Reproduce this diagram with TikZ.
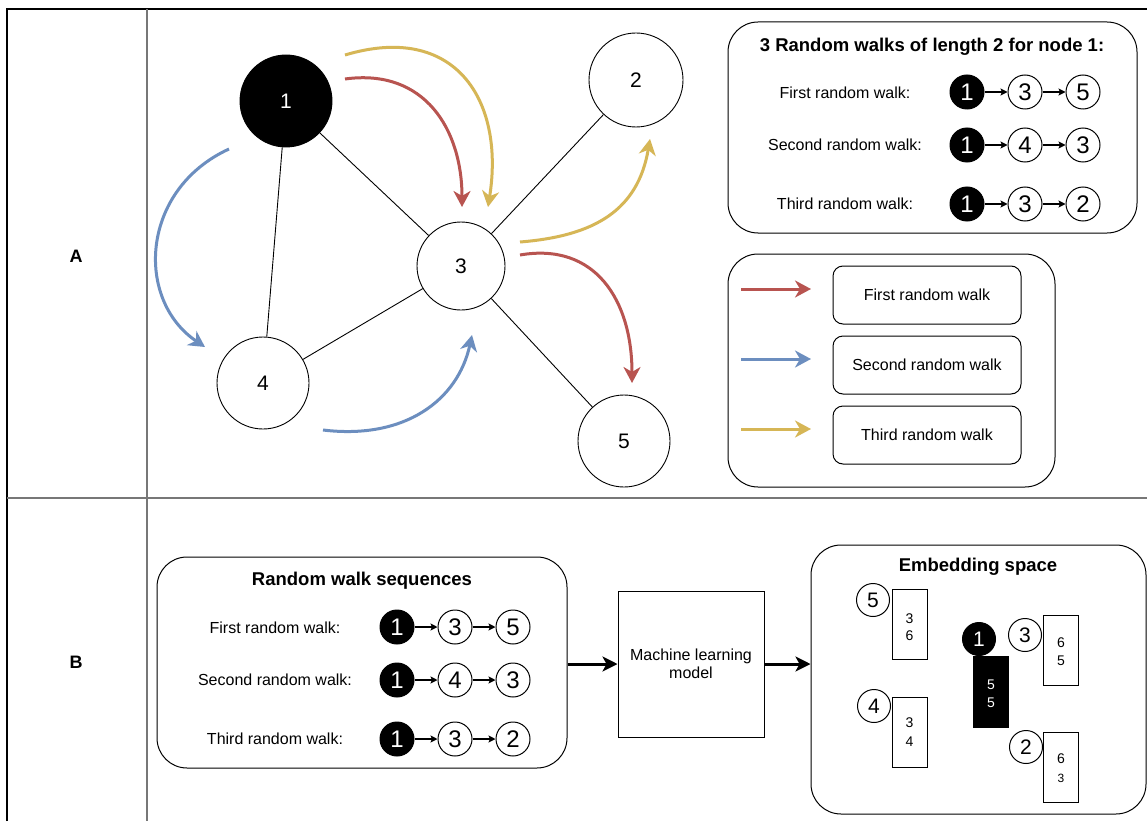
\documentclass[tikz,border=0pt]{standalone}
\usepackage{fontspec}
\setmainfont{Liberation Sans}
\usetikzlibrary{arrows.meta}
\definecolor{walkred}{HTML}{B85450}
\definecolor{walkblue}{HTML}{6C8EBF}
\definecolor{walkyellow}{HTML}{D6B656}
\definecolor{gridgray}{HTML}{777777}

\begin{document}
\begin{tikzpicture}[x=1pt,y=-1pt,
  gnode/.style={circle,draw,line width=0.9pt,minimum size=92pt,inner sep=0pt,font=\fontsize{21}{21}\selectfont},
  gedge/.style={line width=0.9pt},
  panel/.style={draw,line width=1pt,rounded corners=30pt,inner sep=0pt},
  tagbox/.style={draw,line width=1pt,rounded corners=10pt,minimum width=188pt,minimum height=58pt,inner sep=0pt,font=\fontsize{16}{19}\selectfont},
  walkarrow/.style={line width=3pt,-{Stealth[length=16pt,width=17pt,inset=5pt]}},
  wnode/.style={circle,draw,line width=1pt,minimum size=34pt,inner sep=0pt,font=\fontsize{24}{24}\selectfont},
  wstart/.style={wnode,fill=black,text=white},
  seqarrow/.style={line width=1.5pt,-{Stealth[length=7pt,width=7pt,inset=1.5pt]}},
  rowlabel/.style={font=\fontsize{16}{19}\selectfont},
  paneltitle/.style={font=\bfseries\fontsize{18.5}{22}\selectfont},
  rowtag/.style={font=\bfseries\fontsize{18}{22}\selectfont},
  enode/.style={circle,draw,fill=white,line width=1pt,minimum size=33pt,inner sep=0pt,font=\fontsize{21}{21}\selectfont},
  ebar/.style={draw,line width=1pt,minimum width=35pt,minimum height=70pt,inner sep=0pt},
  bardigit/.style={inner sep=0pt,font=\fontsize{14}{14}\selectfont},
  mlarrow/.style={line width=3pt,-{Stealth[length=15pt,width=15pt,inset=4pt]}}
]
\useasboundingbox (0,0) rectangle (1147,821);
\fill[white] (0,0) rectangle (1147,821);

% table rules
\draw[line width=1.5pt] (7,821) -- (7,9) -- (1147,9);
\draw[gridgray,line width=2pt] (147,9) -- (147,821);
\draw[gridgray,line width=2pt] (7,498) -- (1147,498);
\node[rowtag] (tagA) at (76,256) {A};
\node[rowtag] (tagB) at (76,662) {B};

% ---------- row A: graph ----------
\node[gnode,fill=black,text=white] (n1) at (286,101) {1};
\node[gnode,minimum size=94pt] (n2) at (636,80) {2};
\node[gnode,minimum size=88pt] (n3) at (461,266) {3};
\node[gnode] (n4) at (263,383) {4};
\node[gnode] (n5) at (624,441) {5};
\draw[gedge] (n1) -- (n3);
\draw[gedge] (n1) -- (n4);
\draw[gedge] (n3) -- (n2);
\draw[gedge] (n3) -- (n4);
\draw[gedge] (n3) -- (n5);

% walk arrows
\coordinate (r1s) at (345,79);   \coordinate (r1e) at (462,207);
\coordinate (y1s) at (345,55);   \coordinate (y1e) at (488,207);
\coordinate (b1s) at (229,149);  \coordinate (b1e) at (205,347);
\coordinate (b2s) at (323,430);  \coordinate (b2e) at (472,335);
\coordinate (y2s) at (520,242);  \coordinate (y2e) at (650,139);
\coordinate (r2s) at (520,255);  \coordinate (r2e) at (632,383);
\draw[walkarrow,walkred] (r1s) .. controls (425,68) and (462,130) .. (r1e);
\draw[walkarrow,walkyellow] (y1s) .. controls (455,22) and (505,100) .. (y1e);
\draw[walkarrow,walkblue] (b1s) .. controls (140,190) and (135,300) .. (b1e);
\draw[walkarrow,walkblue] (b2s) .. controls (405,440) and (458,400) .. (b2e);
\draw[walkarrow,walkyellow] (y2s) .. controls (595,236) and (638,210) .. (y2e);
\draw[walkarrow,walkred] (r2s) .. controls (595,242) and (632,300) .. (r2e);

% walks panel
\node[panel,minimum width=409pt,minimum height=211pt] (walks) at (932.5,127.5) {};
\node[paneltitle] (walkstitle) at (932,47) {3 Random walks of length 2 for node 1:};
\node[rowlabel] (wl1) at (845,93) {First random walk:};
\node[rowlabel] (wl2) at (845,145) {Second random walk:};
\node[rowlabel] (wl3) at (845,204) {Third random walk:};
\node[wstart] (a1) at (967,92) {1};
\node[wnode]  (a2) at (1025,92) {3};
\node[wnode]  (a3) at (1083,92) {5};
\node[wstart] (b1) at (967,145) {1};
\node[wnode]  (b2) at (1025,145) {4};
\node[wnode]  (b3) at (1083,145) {3};
\node[wstart] (c1) at (967,204) {1};
\node[wnode]  (c2) at (1025,204) {3};
\node[wnode]  (c3) at (1083,204) {2};
\foreach \p/\q in {a1/a2,a2/a3,b1/b2,b2/b3,c1/c2,c2/c3} \draw[seqarrow] (\p) -- (\q);

% legend panel
\node[panel,minimum width=327pt,minimum height=233pt] (legend) at (891.5,370.5) {};
\node[tagbox] (lg1) at (927,295) {First random walk};
\node[tagbox] (lg2) at (927,365) {Second random walk};
\node[tagbox] (lg3) at (927,435) {Third random walk};
\coordinate (la1) at (741,289); \coordinate (lb1) at (811,289);
\coordinate (la2) at (741,359); \coordinate (lb2) at (811,359);
\coordinate (la3) at (741,429); \coordinate (lb3) at (811,429);
\draw[walkarrow,walkred] (la1) -- (lb1);
\draw[walkarrow,walkblue] (la2) -- (lb2);
\draw[walkarrow,walkyellow] (la3) -- (lb3);

% ---------- row B ----------
\node[panel,minimum width=410pt,minimum height=211pt] (seq) at (362,662.5) {};
\node[paneltitle] (seqtitle) at (362,581) {Random walk sequences};
\node[rowlabel] (sl1) at (275,628) {First random walk:};
\node[rowlabel] (sl2) at (275,680) {Second random walk:};
\node[rowlabel] (sl3) at (275,739) {Third random walk:};
\node[wstart] (d1) at (397,627) {1};
\node[wnode]  (d2) at (455,627) {3};
\node[wnode]  (d3) at (513,627) {5};
\node[wstart] (e1) at (397,680) {1};
\node[wnode]  (e2) at (455,680) {4};
\node[wnode]  (e3) at (513,680) {3};
\node[wstart] (f1) at (397,739) {1};
\node[wnode]  (f2) at (455,739) {3};
\node[wnode]  (f3) at (513,739) {2};
\foreach \p/\q in {d1/d2,d2/d3,e1/e2,e2/e3,f1/f2,f2/f3} \draw[seqarrow] (\p) -- (\q);

\node[draw,line width=1pt,minimum width=146pt,minimum height=146pt,inner sep=0pt,align=center,
      font=\fontsize{16}{18}\selectfont] (ml) at (691,664) {Machine learning\\model};

\node[panel,minimum width=335pt,minimum height=269pt] (emb) at (978.5,679.5) {};
\node[paneltitle] (embtitle) at (978,567) {Embedding space};

\draw[mlarrow] (seq.east |- ml.west) -- (ml.west);
\draw[mlarrow] (ml.east) -- (ml.east -| emb.west);

% embedded vectors: a bar with two coordinates and a labelled node
\node[ebar] (v5) at (909.5,624) {};
\node[bardigit] (v5a) at (909.5,619) {3};
\node[bardigit] (v5b) at (909.5,636) {6};
\node[enode] (e5) at (873,600) {5};

\node[ebar] (v4) at (909.5,732.5) {};
\node[bardigit] (v4a) at (909.5,723) {3};
\node[bardigit] (v4b) at (909.5,742) {4};
\node[enode] (e4) at (874,706) {4};

\node[ebar,fill=black,minimum height=71pt] (v1) at (991,691.5) {};
\node[bardigit,text=white] (v1a) at (991,685) {5};
\node[bardigit,text=white] (v1b) at (991,703) {5};
\node[enode,fill=black,text=white] (e1) at (979,639) {1};

\node[ebar] (v3) at (1061,650.5) {};
\node[bardigit] (v3a) at (1061,643) {6};
\node[bardigit] (v3b) at (1061,661) {5};
\node[enode] (e3) at (1025,635) {3};

\node[ebar] (v2) at (1061,767) {};
\node[bardigit] (v2a) at (1061,759) {6};
\node[bardigit,font=\fontsize{12}{12}\selectfont] (v2b) at (1061,778) {3};
\node[enode] (e2) at (1026,747) {2};
\end{tikzpicture}
\end{document}
